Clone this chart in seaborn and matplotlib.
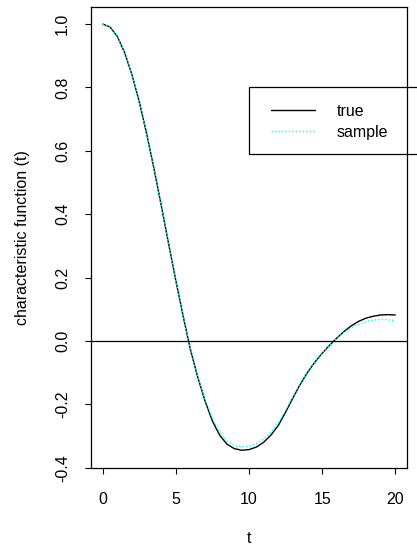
import matplotlib
matplotlib.use("Agg")
import matplotlib.pyplot as plt
import pandas as pd
import seaborn as sns
from matplotlib.patches import Rectangle

# values (step 0.5 in t)
t = [i * 0.5 for i in range(41)]
cf_true = [1.000, 0.991, 0.961, 0.910, 0.840, 0.755, 0.655, 0.545, 0.428, 0.308,
           0.190, 0.078, -0.028, -0.115, -0.190, -0.253, -0.298, -0.326, -0.340, -0.345,
           -0.343, -0.335, -0.320, -0.297, -0.267, -0.225, -0.180, -0.137, -0.099, -0.067,
           -0.039, -0.014, 0.009, 0.030, 0.048, 0.062, 0.072, 0.078, 0.082, 0.083,
           0.082]
cf_sample = [1.000, 0.991, 0.961, 0.910, 0.840, 0.755, 0.655, 0.545, 0.428, 0.308,
             0.190, 0.078, -0.027, -0.112, -0.185, -0.245, -0.289, -0.316, -0.330, -0.334,
             -0.332, -0.324, -0.310, -0.288, -0.259, -0.219, -0.176, -0.134, -0.096, -0.065,
             -0.038, -0.013, 0.008, 0.027, 0.042, 0.053, 0.061, 0.066, 0.068, 0.067,
             0.064]
xticks = [0, 5, 10, 15, 20]
yticks = [-0.4, -0.2, 0.0, 0.2, 0.4, 0.6, 0.8, 1.0]
ytick_labels = ["-0.4", "-0.2", "0.0", "0.2", "0.4", "0.6", "0.8", "1.0"]

df = pd.DataFrame({"t": t, "true": cf_true, "sample": cf_sample})

sns.set_style("ticks")
plt.rcParams["font.family"] = ["Liberation Sans", "DejaVu Sans"]
plt.rcParams["font.size"] = 11.5
plt.rcParams["text.color"] = "black"
plt.rcParams["axes.labelcolor"] = "black"
plt.rcParams["xtick.color"] = "black"
plt.rcParams["ytick.color"] = "black"

W, H = 417, 554
fig = plt.figure(figsize=(W / 100, H / 100), dpi=100)
ax = fig.add_axes([91 / W, 1 - 468 / H, (407 - 91) / W, (468 - 7) / H])

sns.lineplot(data=df, x="t", y="true", color="black", lw=1.0, label="true", ax=ax)
sns.lineplot(data=df, x="t", y="sample", color="cyan", lw=1.0,
             linestyle=(0, (1, 1.5)), label="sample", ax=ax)
ax.axhline(0, color="black", lw=0.9)

ax.set_xlim(-0.8, 20.8)
ax.set_ylim(-0.401, 1.054)
ax.set_xticks(xticks)
ax.set_yticks(yticks)
ax.set_yticklabels(ytick_labels)
for lab in ax.get_yticklabels():
    lab.set_rotation(90)
    lab.set_va("center")

for s in ax.spines.values():
    s.set_visible(True)
    s.set_color("black")
    s.set_linewidth(0.9)
ax.tick_params(axis="both", direction="out", length=4.3, width=0.8, colors="black",
               labelsize=11.5)
ax.tick_params(axis="x", pad=13)
ax.tick_params(axis="y", pad=10.8)

ax.set_xlabel("t", fontsize=11.5)
ax.xaxis.set_label_coords(0.5, -0.1356)
ax.set_ylabel("characteristic function (t)", fontsize=11.5)
ax.yaxis.set_label_coords(-0.193, 0.5)

leg = ax.legend(loc="upper left", bbox_to_anchor=(270.7 / W, 1 - 103.5 / H),
                bbox_transform=fig.transFigure, frameon=False, borderpad=0,
                borderaxespad=0, handlelength=44.6 / 16, handletextpad=21.4 / 16,
                labelspacing=0.4, fontsize=11.5)
for txt in leg.get_texts():
    txt.set_color("black")
fig.add_artist(Rectangle((248.7 / W, 1 - 154 / H), (470 - 248.7) / W, (154 - 87.3) / H,
                         transform=fig.transFigure, fill=False, ec="black", lw=0.9,
                         clip_on=False))

fig.savefig("out.png", dpi=100)
